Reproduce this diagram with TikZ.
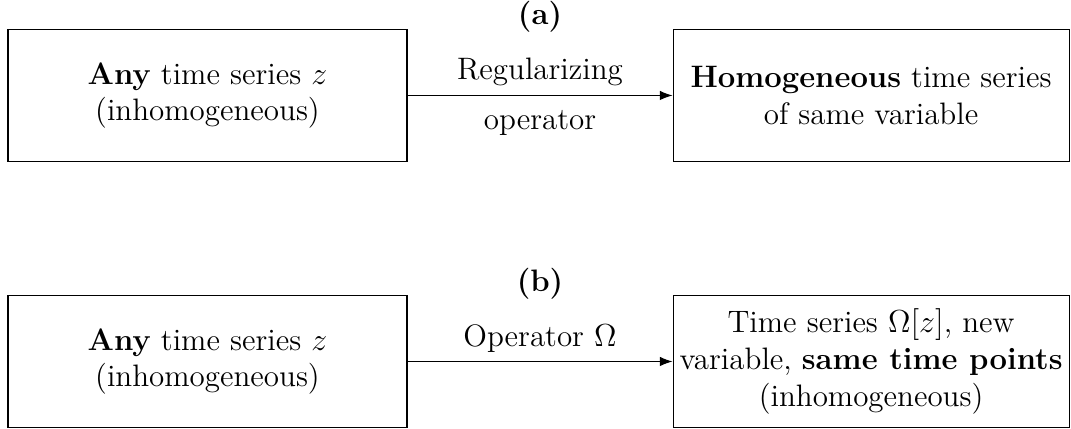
\documentclass[tikz,border=0pt]{standalone}
\usetikzlibrary{arrows.meta, positioning}

\begin{document}
\begin{tikzpicture}[->, >=Latex, auto,
    every node/.style={font=\fontsize{11.7}{13.8}\selectfont},
    box/.style={draw, align=center, inner sep=0pt, minimum height=1.76cm},
    leftbox/.style={box, minimum width=5.29cm},
    rightbox/.style={box, minimum width=5.25cm}]
    \useasboundingbox (0,0) rectangle (14.2,5.688);

    % (a) regularizing
    \node[leftbox] (za) at (2.751,4.422) {\textbf{Any} time series $z$\\(inhomogeneous)};
    \node[rightbox] (ha) at (11.549,4.422) {\textbf{Homogeneous} time series\\of same variable};
    \node (la) at (7.16,5.46) {\textbf{(a)}};
    \draw (za) -- node[above=0pt] {Regularizing} node[below=2pt] {operator} (ha);

    % (b) operator Omega
    \node[leftbox] (zb) at (2.751,0.895) {\textbf{Any} time series $z$\\(inhomogeneous)};
    \node[rightbox] (wb) at (11.549,0.895) {Time series $\Omega[z]$, new\\variable, \textbf{same time points}\\(inhomogeneous)};
    \node (lb) at (7.16,1.93) {\textbf{(b)}};
    \draw (zb) -- node[above=0pt] {Operator $\Omega$} (wb);
\end{tikzpicture}
\end{document}
